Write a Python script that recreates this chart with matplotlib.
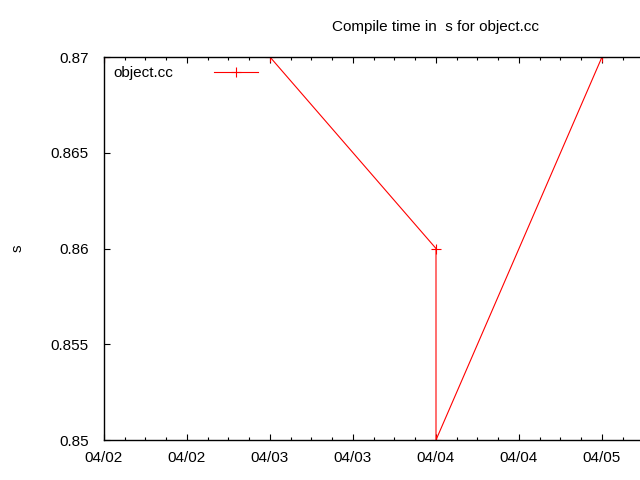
import matplotlib
matplotlib.use("Agg")
import matplotlib.pyplot as plt
import matplotlib.dates as mdates
from datetime import datetime

# data
dates = ["2014-04-02 00:00", "2014-04-03 00:00", "2014-04-04 00:00",
         "2014-04-04 00:00", "2014-04-05 00:00"]
times = [0.87, 0.87, 0.86, 0.85, 0.87]
yticks = [0.85, 0.855, 0.86, 0.865, 0.87]

x = [datetime.strptime(d, "%Y-%m-%d %H:%M") for d in dates]

plt.rcParams['font.family'] = ['Liberation Sans', 'DejaVu Sans']
fs = 11

fig = plt.figure(figsize=(6.4, 4.8), dpi=100)
ax = fig.add_axes([104 / 640, 40 / 480, 535 / 640, 383 / 480])

ax.plot(x, times, color='red', lw=0.8, marker='+', markersize=7,
        markeredgewidth=0.8, label='object.cc')

ax.set_xlim(mdates.date2num(x[0]), mdates.date2num(x[0]) + 535 / 166)
ax.set_ylim(0.85, 0.87)
ax.set_yticks(yticks)
ax.set_yticklabels([f"{v:g}" for v in yticks])

ax.xaxis.set_major_locator(mdates.HourLocator(byhour=[0, 12]))
ax.xaxis.set_minor_locator(mdates.HourLocator(byhour=range(0, 24, 3)))
ax.xaxis.set_major_formatter(mdates.DateFormatter("%m/%d"))

ax.spines['right'].set_visible(False)
for s in ax.spines.values():
    s.set_linewidth(1.0)
ax.tick_params(which='major', direction='in', length=4.5, width=0.8,
               top=True, right=False, labelsize=fs, pad=8)
ax.tick_params(which='minor', direction='in', length=2.5, width=0.8,
               top=True, right=False)
ax.tick_params(axis='y', pad=11)

ax.set_ylabel('s', labelpad=19, fontsize=fs)
fig.text(435 / 640, 1 - 27 / 480, 'Compile time in  s for object.cc',
         ha='center', va='center', fontsize=fs)

ax.legend(loc='upper left', frameon=False, markerfirst=False,
          handlelength=2.9, handletextpad=2.65, borderaxespad=0.15,
          fontsize=fs, borderpad=0.45)

fig.savefig("out.png", dpi=100)
